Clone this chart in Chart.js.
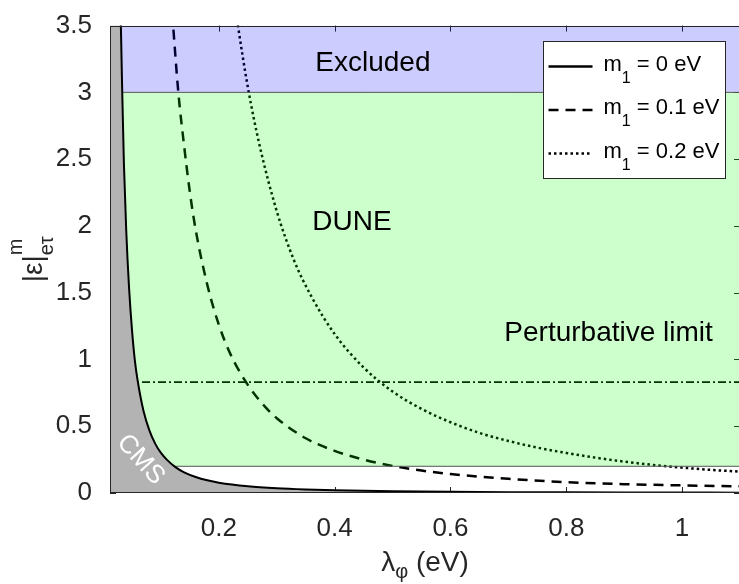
<!DOCTYPE html>
<html>
<head>
<meta charset="utf-8">
<script src="https://cdn.jsdelivr.net/npm/chart.js@4.4.1/dist/chart.umd.min.js"></script>
<style>
  html, body { margin: 0; padding: 0; background: #fff; overflow: hidden; }
  #wrap { width: 739px; height: 584px; overflow: hidden; position: relative; }
  #wrap canvas { position: absolute; left: 0; top: 0; }
</style>
</head>
<body>
<div id="wrap"><canvas id="chart" width="742" height="584"></canvas></div>
<script>
// axis ranges and ticks
const xMin = 0.012, xMax = 1.1;
const yMin = 0, yMax = 3.5;
const xTicks = [0.2, 0.4, 0.6, 0.8, 1];
const yTicks = [0, 0.5, 1, 1.5, 2, 2.5, 3, 3.5];

// m1 = 0 eV (solid line, edge of the CMS region)
const lambdaM0 = [0.012, 0.02, 0.024, 0.027, 0.03, 0.033, 0.036, 0.04, 0.045, 0.05, 0.055, 0.06, 0.07, 0.08, 0.09, 0.1, 0.11, 0.125, 0.14, 0.16, 0.18, 0.2, 0.25, 0.3, 0.35, 0.4, 0.5, 0.6, 0.7, 0.8, 0.9, 1.0, 1.1];
const epsM0 = [23, 8.2, 5.7, 4.5, 3.67, 3.03, 2.47, 1.97, 1.53, 1.22, 0.99, 0.835, 0.612, 0.469, 0.37, 0.3, 0.25, 0.194, 0.155, 0.12, 0.095, 0.077, 0.05, 0.035, 0.026, 0.02, 0.013, 0.009, 0.0065, 0.005, 0.004, 0.0032, 0.0027];

// m1 = 0.1 eV (dashed)
const lambdaM01 = [0.115, 0.121, 0.13, 0.14, 0.15, 0.16, 0.18, 0.2, 0.22, 0.25, 0.28, 0.3, 0.35, 0.4, 0.45, 0.5, 0.55, 0.6, 0.7, 0.8, 0.9, 1.0, 1.1];
const epsM01 = [3.85, 3.5, 3.0, 2.6, 2.25, 1.97, 1.56, 1.26, 1.04, 0.81, 0.645, 0.56, 0.41, 0.315, 0.25, 0.203, 0.168, 0.142, 0.106, 0.081, 0.066, 0.057, 0.05];

// m1 = 0.2 eV (dotted)
const lambdaM02 = [0.225, 0.233, 0.25, 0.27, 0.3, 0.33, 0.36, 0.4, 0.45, 0.5, 0.55, 0.6, 0.65, 0.7, 0.75, 0.8, 0.85, 0.9, 0.95, 1.0, 1.05, 1.1];
const epsM02 = [3.75, 3.5, 3.04, 2.61, 2.11, 1.74, 1.47, 1.19, 0.94, 0.76, 0.63, 0.53, 0.45, 0.39, 0.34, 0.30, 0.265, 0.235, 0.21, 0.19, 0.173, 0.16];

// horizontal limits
const excludedLimit = 3;     // above: excluded
const duneLimit = 0.2;       // DUNE reach
const perturbativeLimit = 0.83;

const legendLabels = [['m', '1', ' = 0 eV'], ['m', '1', ' = 0.1 eV'], ['m', '1', ' = 0.2 eV']];

const FONT = '"Liberation Sans", Arial, Helvetica, sans-serif';

function pts(xs, ys) {
  return xs.map((x, i) => ({x: x, y: ys[i]}));
}

// ticks, box, labels, legend
const decor = {
  id: 'decor',
  beforeDatasetsDraw(chart) {
    const {ctx, chartArea: a, scales: {x, y}} = chart;
    ctx.save();
    ctx.strokeStyle = '#262626';
    ctx.lineWidth = 1;
    ctx.beginPath();
    xTicks.forEach(v => {
      const px = Math.round(x.getPixelForValue(v)) + 0.5;
      ctx.moveTo(px, a.bottom); ctx.lineTo(px, a.bottom - 6);
      ctx.moveTo(px, a.top); ctx.lineTo(px, a.top + 6);
    });
    yTicks.forEach(v => {
      const py = Math.round(y.getPixelForValue(v)) + 0.5;
      ctx.moveTo(a.left, py); ctx.lineTo(a.left + 6, py);
      ctx.moveTo(a.right, py); ctx.lineTo(a.right - 6, py);
    });
    ctx.stroke();
    ctx.restore();
  },
  afterDraw(chart) {
    const {ctx, chartArea: a, scales: {x, y}} = chart;
    ctx.save();

    // axes box
    ctx.strokeStyle = '#262626';
    ctx.lineWidth = 1;
    ctx.strokeRect(Math.round(a.left) + 0.5, Math.round(a.top) + 0.5, Math.round(a.right - a.left) - 1, Math.round(a.bottom - a.top) - 1);

    // region labels
    ctx.fillStyle = '#000';
    ctx.font = '28px ' + FONT;
    ctx.textAlign = 'center';
    ctx.textBaseline = 'alphabetic';
    ctx.fillText('Excluded', x.getPixelForValue(0.466), y.getPixelForValue(3.16));
    ctx.fillText('DUNE', x.getPixelForValue(0.43), y.getPixelForValue(1.97));
    ctx.textAlign = 'left';
    ctx.fillText('Perturbative limit', x.getPixelForValue(0.693), y.getPixelForValue(1.14));

    // CMS, rotated white text
    ctx.save();
    ctx.translate(x.getPixelForValue(0.065), y.getPixelForValue(0.25));
    ctx.rotate(48 * Math.PI / 180);
    ctx.fillStyle = '#fff';
    ctx.font = '26px ' + FONT;
    ctx.textAlign = 'center';
    ctx.textBaseline = 'middle';
    ctx.fillText('CMS', 0, 0);
    ctx.restore();

    // x axis title: lambda_phi (eV)
    ctx.fillStyle = '#262626';
    ctx.textAlign = 'left';
    ctx.textBaseline = 'alphabetic';
    ctx.font = '28px ' + FONT;
    const wl = ctx.measureText('λ').width;
    const we = ctx.measureText(' (eV)').width;
    ctx.font = '20px ' + FONT;
    const wp = ctx.measureText('φ').width;
    let tx = (a.left + a.right) / 2 - (wl + wp + we) / 2;
    const tb = 571;
    ctx.font = '28px ' + FONT;
    ctx.fillText('λ', tx, tb);
    ctx.font = '20px ' + FONT;
    ctx.fillText('φ', tx + wl, tb + 7);
    ctx.font = '28px ' + FONT;
    ctx.fillText(' (eV)', tx + wl + wp, tb);

    // y axis title: |eps|^m_{e tau}
    ctx.save();
    ctx.translate(42, (a.top + a.bottom) / 2);
    ctx.rotate(-Math.PI / 2);
    ctx.font = '28px ' + FONT;
    const wm = ctx.measureText('|ε|').width;
    ctx.font = '20px ' + FONT;
    const ws = ctx.measureText('eτ').width;
    const x0 = -(wm + ws) / 2;
    ctx.font = '28px ' + FONT;
    ctx.fillText('|ε|', x0, 0);
    ctx.font = '20px ' + FONT;
    ctx.fillText('m', x0 + wm, -20);
    ctx.fillText('eτ', x0 + wm, 11);
    ctx.restore();

    // legend
    const bw = 182, bh = 137;
    const bx = Math.round(a.right - 15 - bw) + 0.5, by = Math.round(a.top + 15) + 0.5;
    ctx.fillStyle = '#fff';
    ctx.fillRect(bx, by, bw, bh);
    ctx.strokeStyle = '#262626';
    ctx.lineWidth = 1;
    ctx.strokeRect(bx, by, bw, bh);
    const dashes = [[], [10, 7], [2.5, 3]];
    const widths = [2.5, 2.5, 2.5];
    legendLabels.forEach((lab, i) => {
      const base = by + 29 + i * 43.5;
      ctx.save();
      ctx.strokeStyle = '#000';
      ctx.lineWidth = widths[i];
      ctx.setLineDash(dashes[i]);
      ctx.beginPath();
      ctx.moveTo(bx + 5, base - 4);
      ctx.lineTo(bx + 49, base - 4);
      ctx.stroke();
      ctx.restore();
      let lx = bx + 60;
      ctx.fillStyle = '#000';
      ctx.font = '22px ' + FONT;
      ctx.fillText(lab[0], lx, base);
      lx += ctx.measureText(lab[0]).width;
      ctx.font = '16px ' + FONT;
      ctx.fillText(lab[1], lx, base + 12);
      lx += ctx.measureText(lab[1]).width;
      ctx.font = '22px ' + FONT;
      ctx.fillText(lab[2], lx, base);
    });

    ctx.restore();
  }
};

const ctx = document.getElementById('chart').getContext('2d');
new Chart(ctx, {
  type: 'line',
  data: {
    datasets: [
      {
        // excluded band
        data: pts([xMin, xMax], [excludedLimit, excludedLimit]),
        borderColor: '#555',
        borderWidth: 1,
        backgroundColor: 'rgba(0, 0, 255, 0.2)',
        fill: 'end',
        order: 3
      },
      {
        // DUNE band
        data: pts([xMin, xMax], [duneLimit, duneLimit]),
        borderColor: '#555',
        borderWidth: 1,
        backgroundColor: 'rgba(0, 255, 0, 0.2)',
        fill: '-1',
        order: 3
      },
      {
        data: pts([xMin, xMax], [perturbativeLimit, perturbativeLimit]),
        borderColor: '#000',
        borderWidth: 1.7,
        borderDash: [8, 3, 2, 3],
        fill: false,
        order: 10
      },
      {
        data: pts(lambdaM01, epsM01),
        borderColor: '#000',
        borderWidth: 2.5,
        borderDash: [10, 7],
        cubicInterpolationMode: 'monotone',
        fill: false,
        order: 10
      },
      {
        data: pts(lambdaM02, epsM02),
        borderColor: '#000',
        borderWidth: 2.5,
        borderDash: [2.5, 3],
        cubicInterpolationMode: 'monotone',
        fill: false,
        order: 10
      },
      {
        // CMS region, bounded by m1 = 0 curve
        data: pts(lambdaM0, epsM0),
        borderColor: '#000',
        borderWidth: 2,
        backgroundColor: '#b3b3b3',
        cubicInterpolationMode: 'monotone',
        fill: 'origin',
        order: 0
      }
    ]
  },
  options: {
    responsive: false,
    animation: false,
    events: [],
    elements: { point: { radius: 0 } },
    layout: { padding: { top: 17, right: 2, left: 0, bottom: 0 } },
    plugins: { legend: { display: false }, tooltip: { enabled: false } },
    scales: {
      x: {
        type: 'linear',
        min: xMin,
        max: xMax,
        afterBuildTicks: s => { s.ticks = xTicks.map(v => ({value: v})); },
        afterFit: s => { s.height = 91; },
        grid: { display: false },
        border: { display: false },
        ticks: {
          padding: 12,
          color: '#262626',
          font: { family: FONT, size: 26 },
          maxRotation: 0,
          callback: v => String(v)
        }
      },
      y: {
        type: 'linear',
        min: yMin,
        max: yMax,
        afterBuildTicks: s => { s.ticks = yTicks.map(v => ({value: v})); },
        afterFit: s => { s.width = 110; },
        grid: { display: false },
        border: { display: false },
        ticks: {
          padding: 10,
          color: '#262626',
          font: { family: FONT, size: 26 },
          callback: v => String(v)
        }
      }
    }
  },
  plugins: [decor]
});
</script>
</body>
</html>
